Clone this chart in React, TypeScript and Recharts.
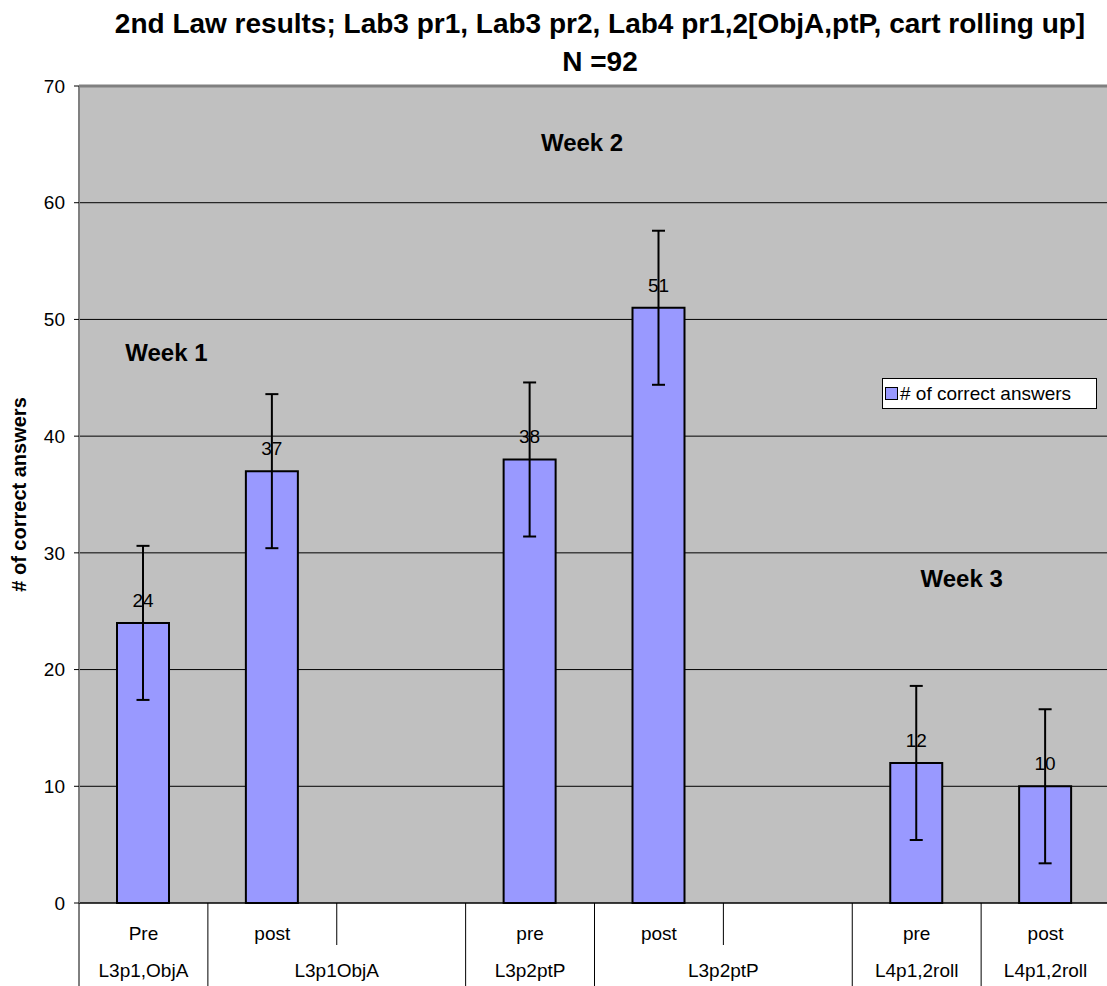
import { Bar, BarChart, CartesianGrid, ErrorBar, LabelList, Legend, ReferenceDot, ReferenceLine, XAxis, YAxis } from "recharts";

const categories = ["Pre", "post", "", "pre", "post", "", "pre", "post"];
const groupLabels = ["L3p1,ObjA", "L3p1ObjA", "L3p2ptP", "L3p2ptP", "L4p1,2roll", "L4p1,2roll"];
const groupSpans = [1, 2, 1, 2, 1, 1];
const correct = [24, 37, null, 38, 51, null, 12, 10];
const errorSize = [6.6, 6.6, null, 6.6, 6.6, null, 6.6, 6.6];
const yTicks = [0, 10, 20, 30, 40, 50, 60, 70];
const weekLabels = ["Week 1", "Week 2", "Week 3"];

const FONT = "'Liberation Sans', Arial, sans-serif";

const rows = categories.map((name, i) => ({
  id: `c${i}`,
  name,
  correct: correct[i],
  err: errorSize[i]
}));

// index of the first category of each group
const groupStarts: number[] = [];
groupSpans.reduce((acc, span) => {
  groupStarts.push(acc);
  return acc + span;
}, 0);

function CategoryTick(props: any) {
  const { x, y, payload, index } = props;
  const bw = payload && payload.offset ? payload.offset * 2 : 128.9;
  const left = x - bw / 2;
  const g = groupStarts.indexOf(index);
  const isStart = g !== -1;
  return (
    <g>
      <line x1={left} x2={left} y1={y} y2={isStart ? y + 90 : y + 42} stroke="#000" strokeWidth={1} />
      <text x={x} y={y + 37} textAnchor="middle" fontSize={19} fontFamily={FONT} fill="#000">
        {categories[index]}
      </text>
      {isStart && (
        <text
          x={left + (groupSpans[g] * bw) / 2}
          y={y + 74}
          textAnchor="middle"
          fontSize={19}
          fontFamily={FONT}
          fill="#000"
        >
          {groupLabels[g]}
        </text>
      )}
    </g>
  );
}

function LegendBox() {
  return (
    <div
      style={{
        border: "1px solid #000",
        background: "#fff",
        width: 213,
        height: 29,
        display: "flex",
        alignItems: "center",
        fontFamily: FONT,
        fontSize: 19,
        color: "#000",
        boxSizing: "content-box"
      }}
    >
      <span
        style={{
          display: "inline-block",
          width: 11,
          height: 11,
          background: "#9999FF",
          border: "1px solid #000",
          marginLeft: 2,
          marginRight: 2
        }}
      />
      # of correct answers
    </div>
  );
}

const weekLabelStyle = { fontSize: 24, fontWeight: "bold", fill: "#000", fontFamily: FONT };

export default function App() {
  return (
    <div style={{ position: "absolute", left: 0, top: 0, width: 1107, height: 986, overflow: "hidden", background: "#fff" }}>
      <div
        style={{
          position: "absolute",
          left: 0,
          top: 5,
          width: 1200,
          textAlign: "center",
          fontFamily: FONT,
          fontWeight: "bold",
          fontSize: 28,
          lineHeight: "38px",
          color: "#000",
          zIndex: 2
        }}
      >
        <div>2nd Law results; Lab3 pr1, Lab3 pr2, Lab4 pr1,2[ObjA,ptP, cart rolling up]</div>
        <div>N =92</div>
      </div>
      <BarChart
        width={1112}
        height={986}
        data={rows}
        margin={{ top: 86, right: 2, left: 0, bottom: 0 }}
        barSize={52}
      >
        <CartesianGrid horizontal vertical={false} stroke="#000" strokeWidth={1} fill="#C0C0C0" fillOpacity={1} />
        <XAxis
          dataKey="id"
          height={83}
          interval={0}
          tickSize={0}
          tickMargin={0}
          tickLine={false}
          axisLine={{ stroke: "#000" }}
          tick={<CategoryTick />}
        />
        <YAxis
          width={79}
          domain={[0, 70]}
          ticks={yTicks}
          interval={0}
          tickSize={5}
          tickMargin={9}
          axisLine={{ stroke: "#808080", strokeWidth: 2 }}
          tickLine={{ stroke: "#000" }}
          tick={{ fontSize: 19, fill: "#000", fontFamily: FONT }}
          label={{
            value: "# of correct answers",
            angle: -90,
            position: "center",
            dx: -21,
            style: { fontSize: 20, fontWeight: "bold", fill: "#000", fontFamily: FONT, textAnchor: "middle" }
          }}
        />
        <ReferenceLine y={70} stroke="#808080" strokeWidth={3} />
        <Legend
          layout="vertical"
          align="center"
          verticalAlign="middle"
          content={() => <LegendBox />}
          wrapperStyle={{ position: "absolute", left: 882, top: 378, width: "auto", height: "auto" }}
        />
        <Bar dataKey="correct" name="# of correct answers" fill="#9999FF" stroke="#000" strokeWidth={2} isAnimationActive={false}>
          <ErrorBar dataKey="err" direction="y" width={6.5} stroke="#000" strokeWidth={2} />
          <LabelList dataKey="correct" position="top" offset={16} fill="#000" fontSize={19} fontFamily={FONT} />
        </Bar>
        <ReferenceDot
          x="c0"
          y={47.2}
          r={0}
          fill="none"
          stroke="none"
          label={{ value: weekLabels[0], position: "center", dx: 23, style: weekLabelStyle }}
        />
        <ReferenceDot
          x="c3"
          y={65.2}
          r={0}
          fill="none"
          stroke="none"
          label={{ value: weekLabels[1], position: "center", dx: 52, style: weekLabelStyle }}
        />
        <ReferenceDot
          x="c6"
          y={27.8}
          r={0}
          fill="none"
          stroke="none"
          label={{ value: weekLabels[2], position: "center", dx: 45, style: weekLabelStyle }}
        />
      </BarChart>
    </div>
  );
}
